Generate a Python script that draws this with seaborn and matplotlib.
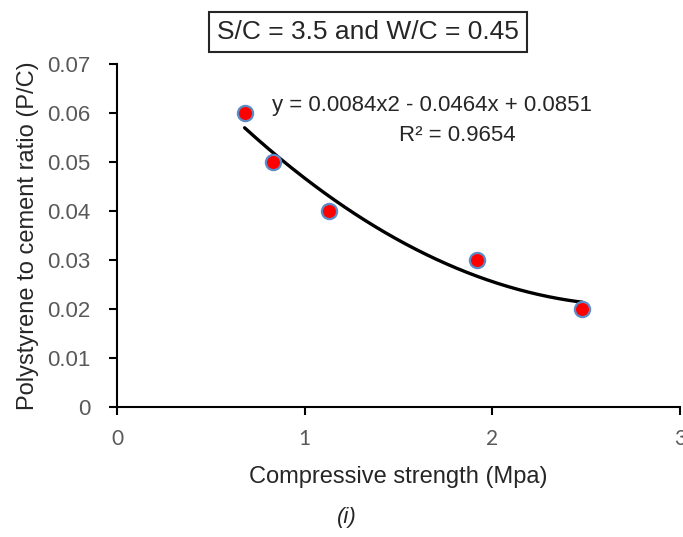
import numpy as np
import pandas as pd
import seaborn as sns
import matplotlib
matplotlib.use("Agg")
import matplotlib.pyplot as plt

# Data
strength = [0.68, 0.83, 1.13, 1.92, 2.48]
pc_ratio = [0.06, 0.05, 0.04, 0.03, 0.02]
x_ticks = [0, 1, 2, 3]
y_ticks = [0, 0.01, 0.02, 0.03, 0.04, 0.05, 0.06, 0.07]
y_tick_labels = ["0", "0.01", "0.02", "0.03", "0.04", "0.05", "0.06", "0.07"]
title = "S/C = 3.5 and W/C = 0.45"
equation = "y = 0.0084x2 - 0.0464x + 0.0851"
r2_text = "R² = 0.9654"

df = pd.DataFrame({"strength": strength, "pc": pc_ratio})

sns.set_theme(style="white")
plt.rcParams['font.family'] = ['Liberation Sans', 'DejaVu Sans']

fig = plt.figure(figsize=(6.83, 5.37), dpi=100)
ax = fig.add_axes([0.1713, 0.2421, 0.8243, 0.6387])

# Polynomial trend line (order 2) fitted to the data
coef = np.polyfit(df["strength"], df["pc"], 2)
xs = np.linspace(df["strength"].min(), df["strength"].max(), 200)
trend = pd.DataFrame({"x": xs, "y": np.polyval(coef, xs)})
sns.lineplot(data=trend, x="x", y="y", ax=ax, color="black", lw=2.4, zorder=2)

sns.scatterplot(data=df, x="strength", y="pc", ax=ax, s=120, color="#FF0000",
                edgecolor="#5B8CC8", linewidth=1.6, zorder=3)

ax.set_xlim(0, 3)
ax.set_ylim(0, 0.07)
ax.set_xticks(x_ticks)
ax.set_xticklabels([str(t) for t in x_ticks], fontsize=15, color="#595959",
                   family=['Lato', 'DejaVu Sans'])
ax.set_yticks(y_ticks)
ax.set_yticklabels(y_tick_labels, fontsize=16, color="#595959")
ax.tick_params(axis='both', direction='out', length=6, width=1.5, color='black',
               bottom=True, left=True)
ax.tick_params(axis='x', pad=10)
ax.tick_params(axis='y', pad=13)

for s in ["top", "right"]:
    ax.spines[s].set_visible(False)
for s in ["left", "bottom"]:
    ax.spines[s].set_color("black")
    ax.spines[s].set_linewidth(1.5)

ax.set_xlabel("Compressive strength (Mpa)", fontsize=17, color="#262626", labelpad=12)
ax.set_ylabel("Polystyrene to cement ratio (P/C)", fontsize=17, color="#262626", labelpad=6)

ax.text((272 - 117) / 563, 0.880, equation, transform=ax.transAxes, fontsize=16,
        color="#262626", ha="left", va="center")
ax.text((457 - 117) / 563, 0.793, r2_text, transform=ax.transAxes, fontsize=16,
        color="#262626", ha="center", va="center")

fig.text(368/683, 1 - 32/537, title, fontsize=19, color="#262626", ha="center", va="center",
         bbox=dict(boxstyle="square,pad=0.3", facecolor="white", edgecolor="#262626", lw=1.5))

fig.text(347/683, 1 - 517/537, "(i)", fontsize=16, style="italic", color="#262626",
         ha="center", va="center")

fig.savefig("out.png", dpi=100)
